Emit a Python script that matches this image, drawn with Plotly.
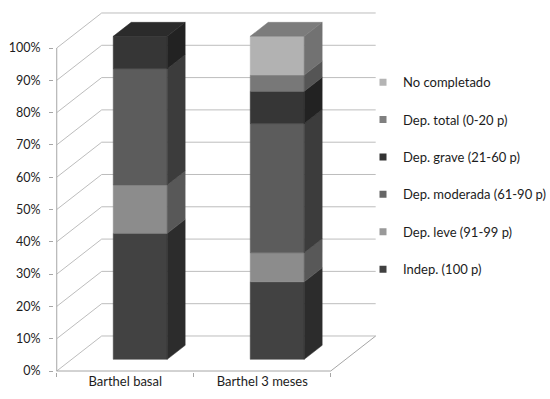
import plotly.graph_objects as go

# ---- data -------------------------------------------------------------
categories = ["Barthel basal", "Barthel 3 meses"]
levels = [
    "Indep. (100 p)",
    "Dep. leve (91-99 p)",
    "Dep. moderada (61-90 p)",
    "Dep. grave (21-60 p)",
    "Dep. total (0-20 p)",
    "No completado",
]
indep = [39, 24]
leve = [15, 9]
moderada = [36, 40]
grave = [10, 10]
total = [0, 5]
no_completado = [0, 12]
series = [indep, leve, moderada, grave, total, no_completado]

y_ticks = [0, 10, 20, 30, 40, 50, 60, 70, 80, 90, 100]
y_tick_labels = [f"{t}%" for t in y_ticks]

# ---- styling ------------------------------------------------------------
front_colors = ["#424242", "#8c8c8c", "#5c5c5c", "#363636", "#787878", "#b2b2b2"]
side_colors = ["#2c2c2c", "#585858", "#3c3c3c", "#222222", "#555555", "#727272"]
top_colors = ["#333333", "#6a6a6a", "#474747", "#2b2b2b", "#5f5f5f", "#7c7c7c"]
legend_colors = ["#404040", "#999999", "#666666", "#333333", "#808080", "#b4b4b4"]
grid_color = "#bdbdbd"
axis_color = "#a6a6a6"
text_color = "#1c1c1c"
FONT = "Lato"

# pseudo-3D projection: depth d in [0, 1] shifts points right and up
DX = 0.328   # category units per full depth
DY = 10.84   # percent units per full depth
D_FRONT, D_BACK = 1 / 3, 0.733   # bar depth span
HW = 0.197   # half bar width (category units)
X_LO, X_HI = -0.5, 1.5           # front floor edge
TOP = 100


def proj(x, v, d):
    return x + d * DX, v + d * DY


def poly(points):
    xs, ys = [], []
    for x, v, d in points:
        px, py = proj(x, v, d)
        xs.append(px)
        ys.append(py)
    return xs, ys


fig = go.Figure()

# ---- walls and floor ----------------------------------------------------
gx, gy = [], []
for t in y_ticks:
    # side wall diagonal
    for x, v, d in [(X_LO, t, 0), (X_LO, t, 1)]:
        px, py = proj(x, v, d)
        gx.append(px)
        gy.append(py)
    gx.append(None)
    gy.append(None)
    # back wall horizontal
    for x, v, d in [(X_LO, t, 1), (X_HI, t, 1)]:
        px, py = proj(x, v, d)
        gx.append(px)
        gy.append(py)
    gx.append(None)
    gy.append(None)
fig.add_trace(go.Scatter(x=gx, y=gy, mode="lines", line=dict(color=grid_color, width=1),
                         hoverinfo="skip", showlegend=False))

ax, ay = [], []
for seg in [[(X_LO, 0, 0), (X_LO, TOP, 0)],
            [(X_LO, 0, 0), (X_HI, 0, 0), (X_HI, 0, 1)]]:
    xs, ys = poly(seg)
    ax += xs + [None]
    ay += ys + [None]
fig.add_trace(go.Scatter(x=ax, y=ay, mode="lines", line=dict(color=axis_color, width=1),
                         hoverinfo="skip", showlegend=False))

# ---- stacked 3D bars ------------------------------------------------------
for i, cat in enumerate(categories):
    base = 0
    stack = [s[i] for s in series]
    top_idx = max(k for k, val in enumerate(stack) if val > 0)
    for k, val in enumerate(stack):
        if val <= 0:
            continue
        v0, v1 = base, base + val
        faces = [
            ([(i - HW, v0, D_FRONT), (i + HW, v0, D_FRONT), (i + HW, v1, D_FRONT), (i - HW, v1, D_FRONT)],
             front_colors[k]),
            ([(i + HW, v0, D_FRONT), (i + HW, v0, D_BACK), (i + HW, v1, D_BACK), (i + HW, v1, D_FRONT)],
             side_colors[k]),
        ]
        if k == top_idx:
            faces.append(([(i - HW, v1, D_FRONT), (i + HW, v1, D_FRONT), (i + HW, v1, D_BACK),
                           (i - HW, v1, D_BACK)], top_colors[k]))
        for pts, col in faces:
            xs, ys = poly(pts)
            fig.add_trace(go.Scatter(x=xs + [xs[0]], y=ys + [ys[0]], mode="lines", fill="toself",
                                     fillcolor=col, line=dict(color=col, width=0.5),
                                     hovertext=f"{cat}<br>{levels[k]}: {val}%", hoverinfo="text",
                                     showlegend=False))
        base = v1

# ---- legend entries (top to bottom) ---------------------------------------
for k in reversed(range(len(levels))):
    fig.add_trace(go.Scatter(x=[None], y=[None], mode="markers", name=levels[k],
                             legendgroup=levels[k],
                             marker=dict(symbol="square", size=7, color=legend_colors[k])))

# ---- layout ---------------------------------------------------------------
PX_X = 137.0   # pixels per category unit
PX_Y = 3.23    # pixels per percent
L, R, T, B = 54, 171, 10, 27
W, H = 550, 399
plot_w = W - L - R
plot_h = H - T - B
x0 = -0.52
y0 = -0.31

fig.update_layout(
    width=W, height=H,
    margin=dict(l=L, r=R, t=T, b=B, autoexpand=False),
    paper_bgcolor="white", plot_bgcolor="white",
    font=dict(family=FONT, size=12, color=text_color),
    showlegend=True,
    legend=dict(x=(363 - L) / plot_w, y=0.842, xanchor="left", yanchor="top",
                font=dict(family=FONT, size=13, color=text_color),
                traceorder="grouped", tracegroupgap=17.5, itemwidth=30,
                bgcolor="rgba(0,0,0,0)"),
    xaxis=dict(range=[x0, x0 + plot_w / PX_X], showgrid=False, zeroline=False, showline=False,
               tickvals=list(range(len(categories))), ticktext=categories, ticks="",
               tickfont=dict(family=FONT, size=13, color=text_color),
               minor=dict(tickvals=[X_LO, 0.5, X_HI], ticks="outside", ticklen=4,
                          tickcolor=axis_color, showgrid=False),
               fixedrange=True),
    yaxis=dict(range=[y0, y0 + plot_h / PX_Y], showgrid=False, zeroline=False, showline=False,
               tickvals=y_ticks, ticktext=y_tick_labels, ticks="outside", ticklen=4,
               tickcolor=axis_color, ticklabelstandoff=6,
               tickfont=dict(family=FONT, size=12.5, color=text_color),
               fixedrange=True),
)

fig.write_html("out.html")
